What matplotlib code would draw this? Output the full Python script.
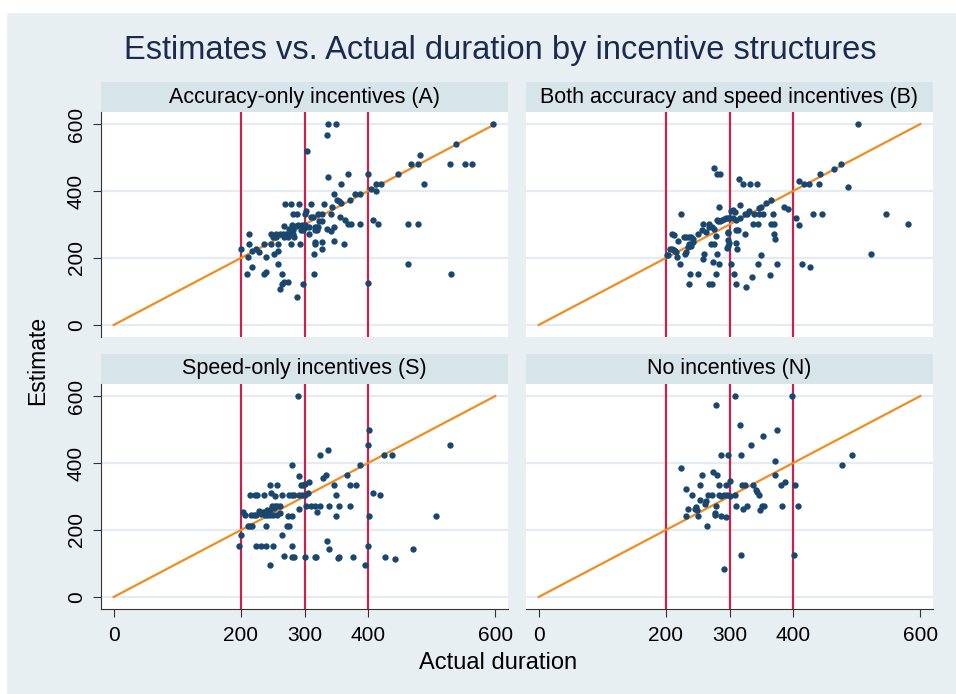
import matplotlib
matplotlib.use("Agg")
import matplotlib.pyplot as plt
from matplotlib.patches import Rectangle

# Accuracy-only incentives (A)
dur_A = [597, 337, 350, 335, 304, 538, 482, 468, 478, 529, 553, 564, 337, 368, 400, 447,
         357, 488, 413, 420, 404, 413, 347, 380, 388, 351, 354, 371, 358, 270, 278, 292,
         310, 331, 343, 303, 282, 288, 321, 327, 300, 356, 310, 313, 341, 323, 328, 364,
         368, 373, 388, 407, 416, 462, 478, 267, 281, 290, 296, 300, 316, 319, 321, 287,
         297, 302, 307, 347, 336, 341, 316, 319, 275, 279, 282, 295, 298, 247, 255, 261,
         266, 271, 276, 250, 255, 268, 274, 282, 284, 307, 212, 236, 247, 259, 278, 293,
         316, 316, 328, 347, 362, 212, 200, 223, 218, 228, 211, 240, 252, 259, 315, 328,
         217, 259, 209, 236, 239, 264, 315, 265, 268, 274, 261, 297, 288, 400, 462, 531]
est_A = [600, 600, 600, 567, 519, 539, 509, 480, 480, 480, 480, 480, 441, 450, 450, 450,
         420, 420, 420, 420, 405, 400, 391, 391, 391, 373, 371, 373, 363, 361, 361, 361,
         361, 361, 351, 341, 331, 331, 331, 331, 331, 322, 321, 321, 331, 311, 311, 312,
         302, 302, 302, 312, 302, 302, 302, 297, 300, 300, 300, 300, 294, 294, 294, 295,
         294, 294, 294, 294, 286, 282, 285, 285, 288, 288, 284, 284, 284, 272, 272, 272,
         272, 272, 272, 262, 262, 262, 262, 272, 264, 272, 271, 242, 242, 242, 242, 242,
         249, 242, 249, 251, 242, 241, 228, 228, 222, 219, 202, 202, 212, 221, 212, 228,
         172, 182, 152, 152, 159, 152, 152, 122, 127, 127, 107, 122, 84, 126, 182, 152]

# Both accuracy and speed incentives (B)
dur_B = [502, 275, 281, 285, 315, 322, 332, 343, 410, 417, 425, 440, 443, 465, 475, 487,
         366, 357, 350, 347, 385, 392, 316, 284, 305, 302, 308, 331, 325, 328, 339, 347,
         352, 368, 432, 445, 546, 223, 297, 295, 291, 288, 285, 282, 280, 300, 305, 310,
         317, 337, 345, 366, 370, 405, 409, 581, 258, 267, 267, 273, 275, 256, 263, 250,
         210, 212, 324, 298, 298, 313, 311, 232, 236, 240, 242, 228, 219, 370, 372, 279,
         271, 275, 297, 299, 298, 296, 310, 312, 237, 242, 235, 240, 206, 209, 212, 214,
         216, 202, 203, 218, 230, 232, 260, 259, 281, 350, 522, 222, 274, 283, 303, 345,
         375, 414, 426, 238, 250, 279, 307, 364, 236, 267, 272, 310, 335, 326]
est_B = [600, 470, 450, 450, 437, 420, 420, 420, 431, 420, 420, 420, 450, 466, 480, 413,
         373, 363, 353, 348, 351, 345, 357, 351, 343, 340, 337, 341, 331, 331, 331, 331,
         331, 331, 331, 331, 331, 331, 320, 318, 315, 312, 310, 310, 314, 318, 318, 312,
         318, 301, 301, 301, 301, 318, 300, 302, 301, 301, 293, 293, 288, 284, 279, 272,
         272, 270, 272, 279, 274, 284, 284, 262, 262, 262, 257, 262, 250, 272, 258, 266,
         242, 242, 254, 245, 236, 229, 246, 228, 242, 247, 234, 237, 228, 226, 224, 221,
         218, 209, 209, 202, 212, 219, 212, 198, 212, 208, 212, 182, 188, 182, 182, 182,
         182, 182, 172, 152, 152, 152, 152, 149, 122, 122, 122, 122, 142, 112]

# Speed-only incentives (S)
dur_S = [290, 402, 400, 529, 425, 437, 324, 337, 281, 388, 291, 329, 334, 367, 307, 301,
         295, 298, 246, 256, 346, 372, 381, 407, 418, 214, 222, 226, 236, 248, 253, 264,
         276, 280, 283, 291, 296, 300, 305, 350, 303, 310, 316, 324, 339, 355, 371, 249,
         253, 256, 261, 252, 246, 241, 238, 229, 234, 232, 238, 241, 246, 251, 256, 216,
         220, 224, 204, 207, 211, 214, 217, 262, 274, 281, 273, 275, 291, 320, 350, 402,
         507, 240, 200, 197, 224, 232, 240, 250, 265, 281, 336, 339, 400, 470, 267, 281,
         284, 300, 316, 318, 353, 355, 377, 426, 443, 245, 395]
est_S = [600, 500, 453, 453, 423, 423, 423, 438, 393, 393, 361, 355, 365, 365, 344, 336,
         333, 333, 334, 334, 334, 334, 334, 311, 303, 303, 303, 303, 303, 309, 301, 303,
         303, 303, 303, 303, 303, 303, 311, 303, 273, 273, 273, 273, 273, 273, 273, 273,
         273, 273, 273, 266, 261, 261, 255, 258, 253, 247, 245, 245, 244, 244, 244, 246,
         246, 246, 253, 244, 213, 213, 213, 251, 243, 243, 213, 213, 263, 253, 243, 243,
         243, 213, 184, 153, 153, 153, 153, 153, 184, 153, 168, 143, 153, 143, 123, 120,
         120, 120, 120, 120, 115, 120, 120, 120, 113, 94, 94]

# No incentives (N)
dur_N = [308, 398, 279, 317, 374, 353, 334, 286, 298, 318, 493, 372, 477, 224, 274, 281,
         257, 371, 300, 381, 387, 403, 253, 283, 295, 320, 325, 337, 231, 342, 344, 241,
         266, 272, 283, 286, 291, 296, 301, 308, 346, 253, 261, 263, 279, 310, 328, 351,
         354, 383, 407, 235, 245, 249, 248, 322, 348, 231, 250, 277, 277, 286, 295, 264,
         318, 402, 291]
est_N = [600, 600, 572, 513, 500, 482, 453, 423, 423, 423, 423, 407, 394, 384, 374, 365,
         365, 365, 347, 335, 344, 335, 335, 335, 335, 335, 335, 335, 321, 319, 313, 303,
         303, 303, 303, 301, 303, 303, 301, 303, 303, 291, 279, 286, 273, 273, 273, 273,
         273, 273, 273, 263, 263, 259, 268, 263, 259, 243, 243, 246, 251, 243, 240, 213,
         124, 124, 84]

titles = ["Accuracy-only incentives (A)", "Both accuracy and speed incentives (B)",
          "Speed-only incentives (S)", "No incentives (N)"]
xticks = [0, 200, 300, 400, 600]
yticks = [0, 200, 400, 600]
cutoffs = [200, 300, 400]

plt.rcParams['font.family'] = ['Liberation Sans', 'DejaVu Sans']

bg = '#E8EFF2'
fig = plt.figure(figsize=(9.56, 6.94), dpi=100)
fig.set_facecolor(bg)
# white frame strips on top / left
fig.patches.append(Rectangle((0, 1 - 12 / 694), 1, 12 / 694, transform=fig.transFigure,
                             color='white', zorder=0))
fig.patches.append(Rectangle((0, 0), 6 / 956, 1, transform=fig.transFigure,
                             color='white', zorder=0))

W, H = 956, 694
lefts = [101, 526]
width = 407
tops = [112, 384]
height = 225
strip_h = 30

data = [(dur_A, est_A), (dur_B, est_B), (dur_S, est_S), (dur_N, est_N)]

for i, (dur, est) in enumerate(data):
    row, col = divmod(i, 2)
    l = lefts[col]
    t = tops[row]
    ax = fig.add_axes([l / W, 1 - (t + height) / H, width / W, height / H])
    ax.set_facecolor('white')
    ax.set_xlim(-20, 620)
    ax.set_ylim(-36, 636)
    for y in yticks:
        ax.axhline(y, color='#E3ECF0', lw=1.6, zorder=0)
    for c in cutoffs:
        ax.axvline(c, color='#C8234A', lw=1.6, zorder=2)
    ax.plot([0, 600], [0, 600], color='#F28C1E', lw=1.6, zorder=3)
    ax.scatter(dur, est, s=21, color='#1A476F', zorder=4, linewidths=0)

    for s in ['top', 'right']:
        ax.spines[s].set_visible(False)
    ax.spines['left'].set_visible(col == 0)
    ax.spines['bottom'].set_visible(row == 1)
    ax.spines['left'].set_color('#333333')
    ax.spines['bottom'].set_color('#333333')

    ax.set_xticks(xticks)
    ax.set_yticks(yticks)
    if row == 1:
        ax.tick_params(axis='x', length=6, color='#333333', labelsize=15, pad=6)
    else:
        ax.tick_params(axis='x', length=0, labelbottom=False)
    if col == 0:
        ax.tick_params(axis='y', length=6, color='#333333', labelsize=15, pad=5)
        for lab in ax.get_yticklabels():
            lab.set_rotation(90)
            lab.set_va('center')
    else:
        ax.tick_params(axis='y', length=0, labelleft=False)

    hf = strip_h / height
    ax.add_patch(Rectangle((0, 1), 1, hf, transform=ax.transAxes, clip_on=False,
                           facecolor='#D7E4EA', edgecolor='none', zorder=1))
    ax.text(0.5, 1 + hf / 2, titles[i], transform=ax.transAxes, ha='center',
            va='center', fontsize=15.5, color='black')

fig.text(500 / W, 1 - 50 / H, 'Estimates vs. Actual duration by incentive structures',
         ha='center', va='center', fontsize=23.5, color='#1C2A4F')
fig.text(498 / W, 1 - 663 / H, 'Actual duration', ha='center', va='center',
         fontsize=17, color='black')
fig.text(38 / W, 1 - 360 / H, 'Estimate', ha='center', va='center', rotation=90,
         fontsize=16.5, color='black')

fig.savefig('out.png', dpi=100, facecolor=fig.get_facecolor())
